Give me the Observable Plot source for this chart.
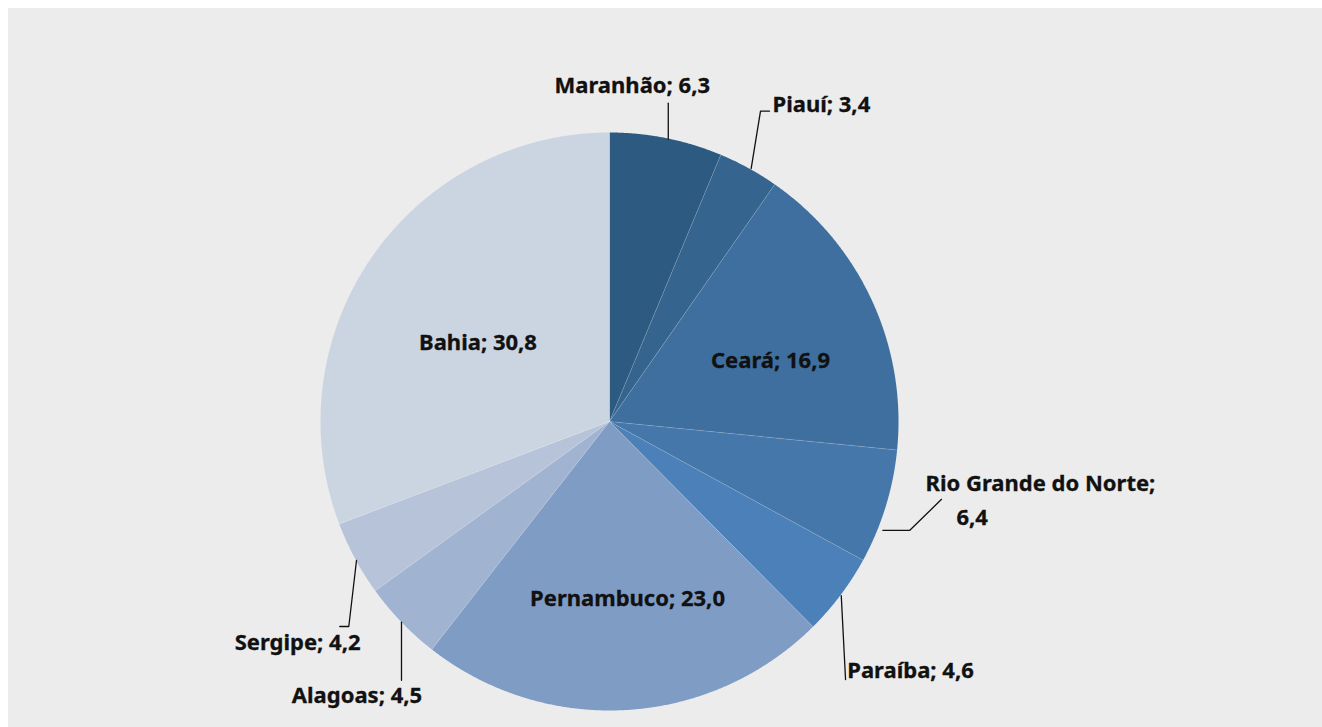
<!DOCTYPE html>
<html><head><meta charset="utf-8">
<script src="https://cdn.jsdelivr.net/npm/d3@7"></script>
<script src="https://cdn.jsdelivr.net/npm/@observablehq/plot@0.6"></script>
<style>
html,body{margin:0;padding:0;background:#fff;}
#frame{position:absolute;left:8px;top:8px;width:1314px;height:719px;background:#ebeceb;overflow:hidden;}
</style></head><body><div id="frame"></div>
<script>
// ---- data ----
const states = ["Maranhão","Piauí","Ceará","Rio Grande do Norte","Paraíba","Pernambuco","Alagoas","Sergipe","Bahia"];
const shares = [6.3, 3.4, 16.9, 6.4, 4.6, 23.0, 4.5, 4.2, 30.8];
const valueLabels = ["6,3","3,4","16,9","6,4","4,6","23,0","4,5","4,2","30,8"];
const sliceColors = ["#2d5a80","#35648f","#3e6f9e","#4677aa","#4c80b8","#7f9cc5","#a0b3d1","#b6c3d9","#cbd5e2"];

// ---- layout (pixels) ----
const W = 1314, H = 719, CX = 601, CY = 413, R = 289;
const layout = [
  {type:"out", leader:[[2,1],[2,-35]], texts:[{dx:-34, dy:-45.3, anchor:"middle"}]},
  {type:"out", leader:[[2.6,0.3],[11.9,-57],[20.9,-57]], texts:[{dx:23.9, dy:-56, anchor:"start"}]},
  {type:"in", k:0.6, texts:[{dx:3.5, dy:19.2, anchor:"middle"}]},
  {type:"out", leader:[[-2.8,23.5],[24.2,23.5],[55.9,-7.5]], texts:[{dx:39.9, dy:-15.5, anchor:"start", part:"name"},{dx:70.9, dy:18.5, anchor:"start", part:"value"}]},
  {type:"out", leader:[[0.8,0.3],[5.1,84.3]], texts:[{dx:6.8, dy:82.3, anchor:"start"}]},
  {type:"in", k:0.6, texts:[{dx:7.7, dy:11.9, anchor:"middle"}]},
  {type:"out", leader:[[0,0],[0,58.2]], texts:[{dx:20.6, dy:81.2, anchor:"end"}]},
  {type:"out", leader:[[1.4,1.9],[-6.3,67.9],[-15.3,67.9]], texts:[{dx:5.4, dy:90.9, anchor:"end"}]},
  {type:"in", k:0.6, texts:[{dx:11.2, dy:27.5, anchor:"middle"}]}
];

// ---- geometry from data ----
const total = d3.sum(shares);
const cum = d3.cumsum(shares);
const slices = states.map((name, i) => {
  const a0 = (i === 0 ? 0 : cum[i-1]) / total * 2 * Math.PI;
  const a1 = cum[i] / total * 2 * Math.PI;
  return {name, value: shares[i], label: valueLabels[i], color: sliceColors[i], a0, a1, mid: (a0 + a1) / 2};
});
const polar = (a, r) => ({x: Math.sin(a) * r, y: Math.cos(a) * r});

const polyPts = [];
for (const s of slices) {
  polyPts.push({name: s.name, color: s.color, x: 0, y: 0});
  const n = Math.max(2, Math.ceil((s.a1 - s.a0) / 0.004));
  for (let j = 0; j <= n; j++) {
    const a = s.a0 + (s.a1 - s.a0) * j / n;
    polyPts.push({name: s.name, color: s.color, ...polar(a, 1)});
  }
  polyPts.push({name: s.name, color: s.color, x: 0, y: 0});
}
const boundaries = slices.map(s => ({a: s.a0}));

const leaderPts = [];
const textRows = [];
slices.forEach((s, i) => {
  const L = layout[i];
  let base;
  if (L.type === "out") {
    base = polar(s.mid, 1);
    for (const [dx, dy] of L.leader) leaderPts.push({name: s.name, x: base.x + dx / R, y: base.y - dy / R});
  } else {
    base = polar(s.mid, L.k);
  }
  for (const t of L.texts) {
    const text = t.part === "name" ? s.name + ";" : t.part === "value" ? s.label : `${s.name}; ${s.label}`;
    textRows.push({text, anchor: t.anchor, x: base.x + t.dx / R, y: base.y - t.dy / R});
  }
});

const textOpts = anchor => ({x: "x", y: "y", text: "text", textAnchor: anchor, lineAnchor: "bottom",
  fontSize: 22, fontWeight: 700, fill: "#111", stroke: "#111", strokeWidth: 0.3});

const chart = Plot.plot({
  width: W, height: H, margin: 0,
  x: {domain: [-1, 1], range: [CX - R, CX + R], axis: null},
  y: {domain: [-1, 1], range: [CY + R, CY - R], axis: null},
  color: {type: "identity"},
  style: {background: "transparent", fontFamily: "'Noto Sans', sans-serif", overflow: "visible"},
  marks: [
    Plot.line(polyPts, {x: "x", y: "y", z: "name", fill: "color", stroke: null, curve: "linear"}),
    Plot.link(boundaries, {x1: 0, y1: 0, x2: d => Math.sin(d.a), y2: d => Math.cos(d.a), stroke: "#ffffff", strokeOpacity: 0.22, strokeWidth: 0.7}),
    Plot.line(leaderPts, {x: "x", y: "y", z: "name", stroke: "#111", strokeWidth: 1.3}),
    Plot.text(textRows.filter(d => d.anchor === "start"), textOpts("start")),
    Plot.text(textRows.filter(d => d.anchor === "middle"), textOpts("middle")),
    Plot.text(textRows.filter(d => d.anchor === "end"), textOpts("end"))
  ]
});
document.getElementById("frame").appendChild(chart);
</script></body></html>
